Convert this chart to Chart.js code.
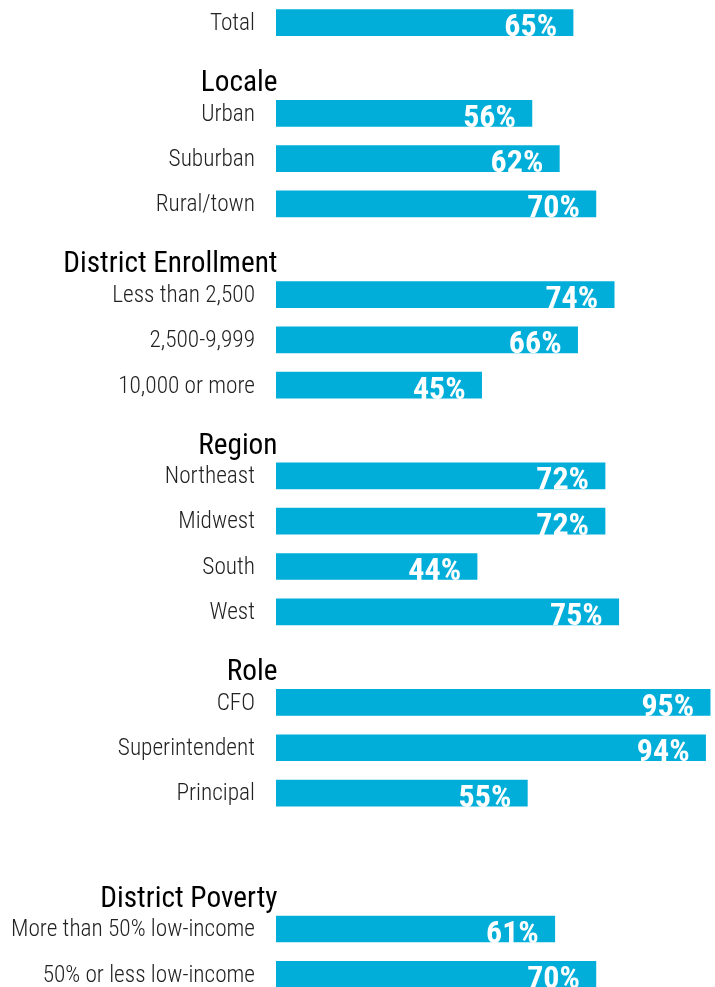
<!DOCTYPE html>
<html>
<head>
<meta charset="utf-8">
<script src="https://cdn.jsdelivr.net/npm/chart.js@4.4.1/dist/chart.umd.min.js"></script>
<style>
  body { margin: 0; background: #fff; }
  #wrap { width: 715px; height: 987px; overflow: hidden; position: relative; }
  canvas { position: absolute; left: 0; top: 0; }
</style>
</head>
<body>
<div id="wrap"><canvas id="barChart" width="733" height="997"></canvas></div>
<script>
// rows top to bottom, group headings have no value
const categories = [
  "Total",
  "Locale", "Urban", "Suburban", "Rural/town",
  "District Enrollment", "Less than 2,500", "2,500-9,999", "10,000 or more",
  "Region", "Northeast", "Midwest", "South", "West",
  "Role", "CFO", "Superintendent", "Principal",
  "",
  "District Poverty", "More than 50% low-income", "50% or less low-income",
];
const values = [
  65,
  null, 56, 62, 70,
  null, 74, 66, 45,
  null, 72, 72, 44, 75,
  null, 95, 94, 55,
  null,
  null, 61, 70,
];
const headings = ["Locale", "District Enrollment", "Region", "Role", "District Poverty"];

const FONT = "'Roboto Condensed', 'Liberation Sans Narrow', sans-serif";

// percent labels inside the bar ends
const valueLabels = {
  id: "valueLabels",
  afterDatasetsDraw(chart) {
    const ctx = chart.ctx;
    const meta = chart.getDatasetMeta(0);
    ctx.save();
    ctx.font = "bold 32px " + FONT;
    ctx.fillStyle = "#ffffff";
    ctx.textAlign = "right";
    ctx.textBaseline = "alphabetic";
    meta.data.forEach((bar, i) => {
      if (values[i] == null) return;
      ctx.fillText(values[i] + "%", bar.x - 16, bar.y + 13.5);
    });
    ctx.restore();
  },
};

// group headings, sitting just above their first bar
const groupHeadings = {
  id: "groupHeadings",
  afterDraw(chart) {
    const ctx = chart.ctx;
    const y = chart.scales.y;
    ctx.save();
    ctx.font = "400 29.3px " + FONT;
    ctx.fillStyle = "#000000";
    ctx.textAlign = "right";
    ctx.textBaseline = "alphabetic";
    categories.forEach((c, i) => {
      if (headings.indexOf(c) < 0) return;
      ctx.fillText(c, y.right + 1.5, y.getPixelForValue(i) + 23);
    });
    ctx.restore();
  },
};

new Chart(document.getElementById("barChart"), {
  type: "bar",
  data: {
    labels: categories,
    datasets: [
      {
        data: values,
        backgroundColor: "#00AED9",
        borderWidth: 0,
        barThickness: 26,
      },
    ],
  },
  options: {
    indexAxis: "y",
    responsive: false,
    animation: false,
    layout: { padding: 0 },
    plugins: {
      legend: { display: false },
      tooltip: { enabled: false },
    },
    scales: {
      x: {
        display: false,
        min: 0,
        max: 100,
      },
      y: {
        grid: { display: false, drawTicks: false },
        border: { display: false },
        ticks: {
          padding: 21,
          labelOffset: 1.5,
          color: "#222222",
          font: { family: FONT, size: 23.3, weight: 300 },
          callback: function (v, i) {
            const c = categories[i];
            return headings.indexOf(c) >= 0 ? "" : c;
          },
        },
        afterFit(scale) {
          scale.width = 276;
          scale.paddingTop = 0;
          scale.paddingBottom = 0;
        },
      },
    },
  },
  plugins: [valueLabels, groupHeadings],
});
</script>
</body>
</html>
